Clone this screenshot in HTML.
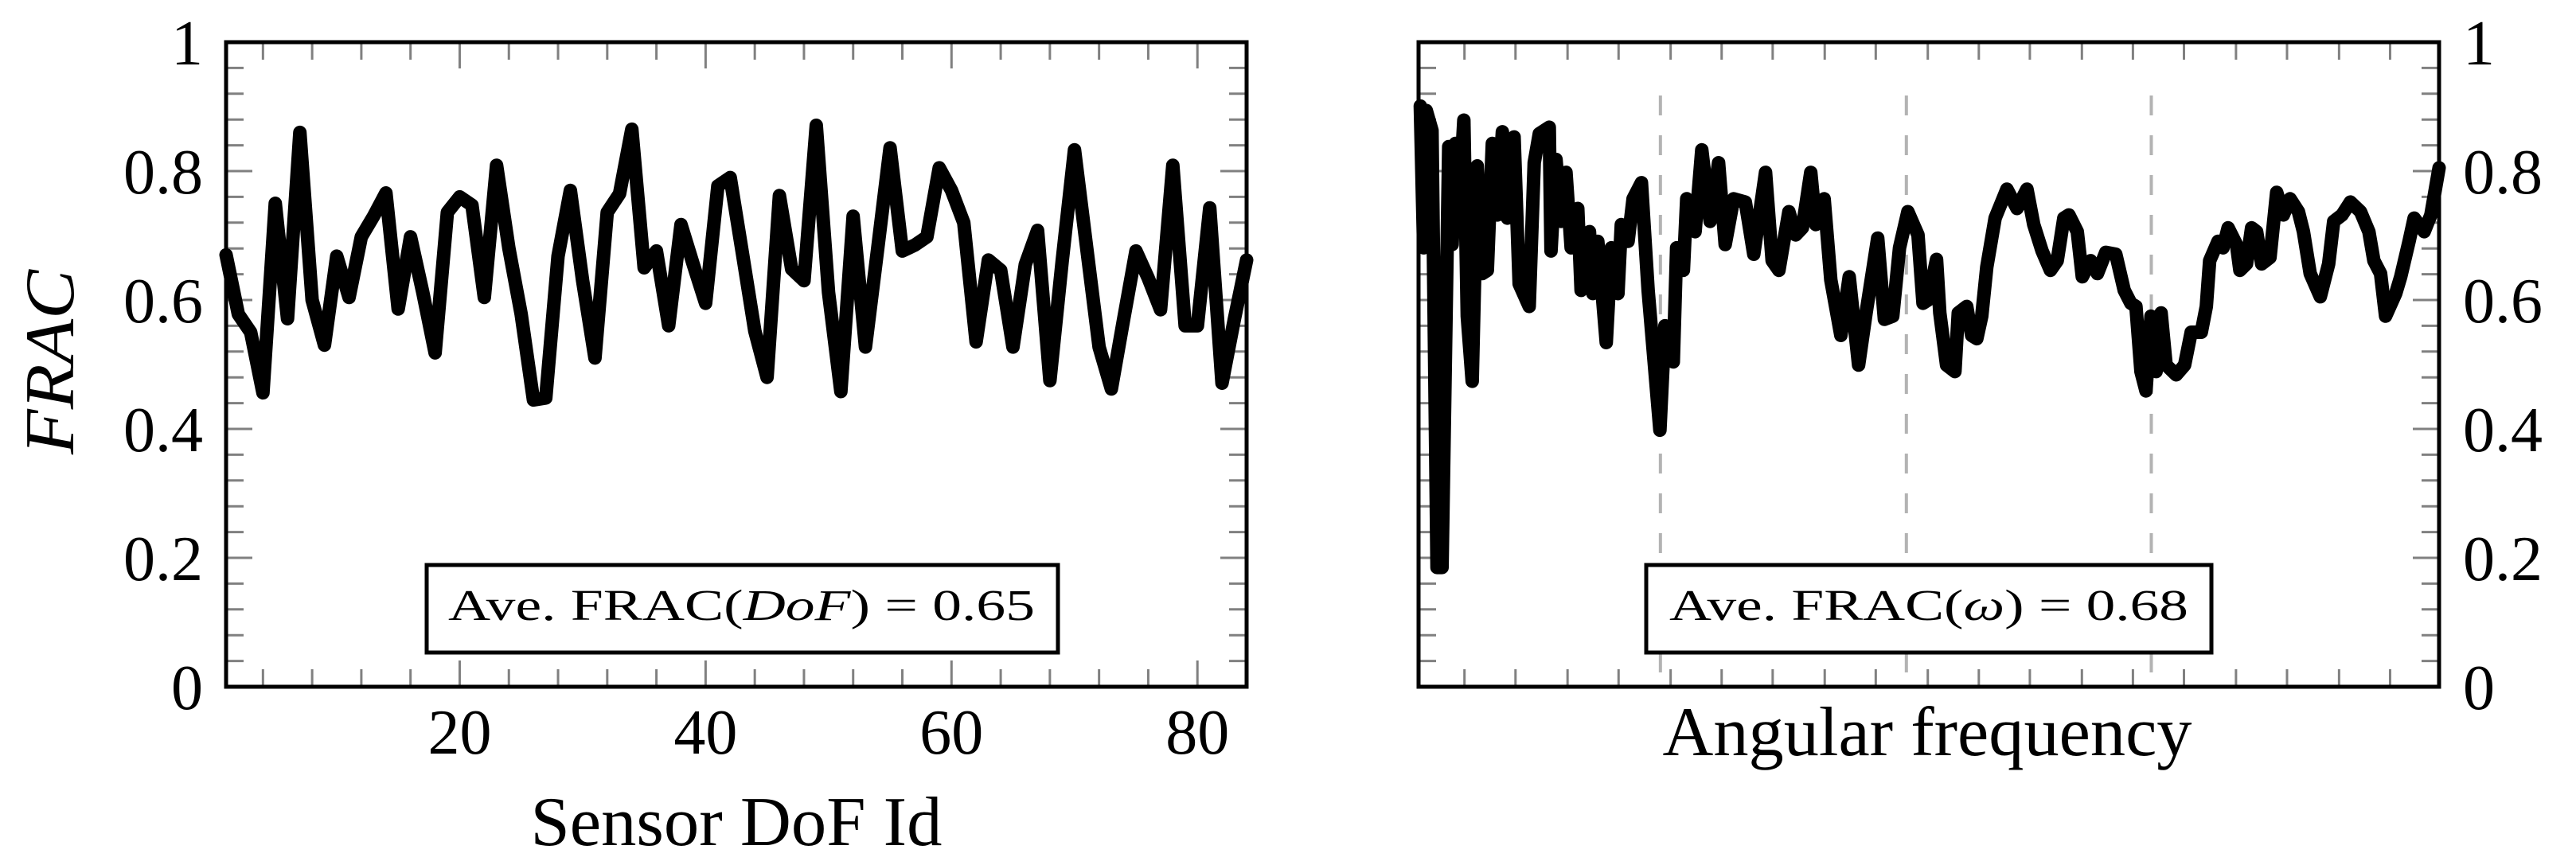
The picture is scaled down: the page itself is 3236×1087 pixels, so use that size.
<!DOCTYPE html>
<html><head><meta charset="utf-8">
<style>
html,body{margin:0;padding:0;background:#fff;}
svg{display:block;}
text{font-family:"Liberation Serif",serif;fill:#000;}
</style></head>
<body>
<svg id="chart" width="3236" height="1087" viewBox="0 0 3236 1087" xmlns="http://www.w3.org/2000/svg">
  <rect x="0" y="0" width="3236" height="1087" fill="#fff"/>
  <g id="left"></g>
  <g id="right"></g>
</svg>
<script>
// ---- Left chart data ----
const dofIds = [1,2,3,4,5,6,7,8,9,10,11,12,13,14,15,16,17,18,19,20,21,22,23,24,25,26,27,28,29,30,31,32,33,34,35,36,37,38,39,40,41,42,43,44,45,46,47,48,49,50,51,52,53,54,55,56,57,58,59,60,61,62,63,64,65,66,67,68,69,70,71,72,73,74,75,76,77,78,79,80,81,82,83,84];
const dofFrac = [0.67,0.578,0.55,0.456,0.75,0.571,0.86,0.60,0.53,0.668,0.604,0.698,0.73,0.766,0.586,0.698,0.612,0.518,0.736,0.76,0.747,0.604,0.809,0.68,0.578,0.445,0.448,0.668,0.77,0.63,0.51,0.736,0.765,0.865,0.65,0.676,0.56,0.717,0.655,0.595,0.777,0.79,0.672,0.552,0.48,0.762,0.648,0.63,0.871,0.612,0.458,0.73,0.527,0.68,0.836,0.676,0.685,0.698,0.805,0.77,0.72,0.535,0.662,0.646,0.527,0.655,0.708,0.475,0.66,0.833,0.68,0.527,0.462,0.57,0.676,0.634,0.585,0.809,0.56,0.56,0.743,0.471,0.57,0.662];
const leftXTicks = [20,40,60,80];
const yTicks = [0,0.2,0.4,0.6,0.8,1];
const yTickLabels = ["0","0.2","0.4","0.6","0.8","1"];

// ---- Right chart data ----
const freqIdx = [1.7,5.0,7.6,13.2,18.1,23.0,27.3,29.6,32.9,36.2,39.5,44.4,47.7,52.6,57.5,62.4,67.4,72.3,77.2,82.1,87.1,93.6,98.6,108.4,113.3,118.3,128.1,129.8,134.7,139.6,144.5,149.5,156.0,159.3,167.5,170.8,175.7,183.9,188.9,195.4,198.7,205.3,210.2,218.4,225.0,236.5,241.4,249.6,252.9,259.5,262.8,271.0,277.5,285.7,294.0,300.5,308.7,320.2,328.5,340.0,346.5,353.1,362.9,369.5,376.1,384.3,389.2,397.4,404.0,413.8,422.0,431.2,438.5,449.9,456.5,464.7,471.3,479.5,489.4,494.3,499.3,507.6,510.8,517.4,525.6,528.9,537.1,542.0,547.0,551.9,556.8,565.0,576.5,586.4,596.2,602.8,611.0,619.2,625.8,632.3,637.3,645.5,650.4,658.6,665.2,673.4,683.2,691.5,698.0,703.0,707.9,712.8,717.7,722.7,727.6,732.5,742.4,750.6,757.1,767.0,771.9,775.2,783.4,788.3,793.3,801.5,804.8,811.3,816.3,821.2,826.1,834.3,840.9,847.4,854.0,862.2,867.1,873.7,883.6,891.8,896.7,904.9,913.1,923.0,931.2,936.1,942.7,947.6,957.5,962.4,970.6,975.6,985.4,992.0,1000];
const freqFrac = [0.901,0.681,0.894,0.863,0.185,0.185,0.610,0.838,0.686,0.843,0.742,0.879,0.575,0.474,0.808,0.641,0.646,0.843,0.732,0.861,0.727,0.853,0.625,0.590,0.813,0.858,0.868,0.676,0.818,0.722,0.798,0.681,0.742,0.615,0.706,0.610,0.691,0.534,0.681,0.610,0.717,0.691,0.757,0.782,0.615,0.398,0.560,0.504,0.681,0.646,0.757,0.706,0.833,0.722,0.813,0.686,0.757,0.752,0.671,0.798,0.661,0.646,0.737,0.701,0.712,0.798,0.717,0.757,0.631,0.545,0.636,0.499,0.580,0.696,0.570,0.575,0.681,0.737,0.701,0.595,0.600,0.663,0.580,0.499,0.489,0.580,0.590,0.545,0.540,0.575,0.651,0.727,0.772,0.742,0.772,0.717,0.676,0.646,0.661,0.727,0.732,0.706,0.636,0.661,0.641,0.674,0.671,0.615,0.595,0.590,0.489,0.459,0.575,0.489,0.580,0.499,0.484,0.499,0.550,0.550,0.590,0.661,0.691,0.681,0.712,0.686,0.646,0.656,0.712,0.706,0.656,0.666,0.767,0.732,0.757,0.737,0.706,0.641,0.605,0.656,0.722,0.732,0.752,0.737,0.706,0.661,0.641,0.575,0.610,0.636,0.691,0.727,0.706,0.732,0.805];
const rightXTicks = [45,95,146,196,247,297,347,398,448,499,549,599,650,700,750,801,851,902,952];
const rightDashed = [237,478,718];

const NS = "http://www.w3.org/2000/svg";
function mk(parent, tag, attrs){
  const e = document.createElementNS(NS, tag);
  for (const k in attrs) e.setAttribute(k, attrs[k]);
  parent.appendChild(e);
  return e;
}

const Y0 = 863, Y1 = 53;
function yScale(v){ return Y0 - (Y0 - Y1) * v; }

function drawFrameTicks(g, x0, x1, xs, xTicksArr, majorX, minorXLen){
  for (let i = 1; i < 25; i++) {
    const v = i * 0.04;
    const y = yScale(v);
    const major = Math.abs(v*5 - Math.round(v*5)) < 1e-6;
    const len = major ? 33 : 22;
    const t1 = mk(g, 'line', {x1:x0, y1:y, x2:x0+len, y2:y, stroke:'#808080', 'stroke-width':3});
    
    
    const t2 = mk(g, 'line', {x1:x1-len, y1:y, x2:x1, y2:y, stroke:'#808080', 'stroke-width':3});
    
    
  }
  for (const t of xTicksArr) {
    const x = xs(t);
    const len = majorX(t) ? 33 : minorXLen;
    const a = mk(g, 'line', {x1:x, y1:Y0, x2:x, y2:Y0-len, stroke:'#808080', 'stroke-width':3});
    
    
    const b = mk(g, 'line', {x1:x, y1:Y1, x2:x, y2:Y1+len, stroke:'#808080', 'stroke-width':3});
    
    
  }
}

function drawFrame(g, x0, x1){
  const r = mk(g, 'rect', {x:x0, y:Y1, width:x1-x0, height:Y0-Y1, fill:'none', stroke:'#000', 'stroke-width':5});
  
  
}

function drawLine(g, xs, xv, yv, name){
  let d = '';
  for (let i = 0; i < xv.length; i++) d += (i ? 'L' : 'M') + xs(xv[i]).toFixed(1) + ',' + yScale(yv[i]).toFixed(1);
  const p = mk(g, 'path', {d:d, fill:'none', stroke:'#000', 'stroke-width':17, 'stroke-linejoin':'round', 'stroke-linecap':'round'});
  
  
}

function yLabels(g, x, anchor){
  yTicks.forEach((v, i) => {
    const t = mk(g, 'text', {x:x, y:yScale(v)+28, 'font-size':80, 'text-anchor':anchor});
    t.textContent = yTickLabels[i];
    
    
  });
}

// ---- Left panel ----
(function(){
  const g = document.getElementById('left');
  const LX0 = 284, LX1 = 1566, xmin = 1, xmax = 84;
  const xs = v => LX0 + (v - xmin) / (xmax - xmin) * (LX1 - LX0);
  const minor = [];
  for (let t = 4; t < xmax; t += 4) minor.push(t);
  drawFrameTicks(g, LX0, LX1, xs, minor, t => t % 20 === 0, 22);
  drawLine(g, xs, dofIds, dofFrac, 'dof-frac-line');
  const lb = mk(g, 'rect', {x:536, y:710, width:793, height:110, fill:'#fff', stroke:'#000', 'stroke-width':5});
  
  
  const lt = mk(g, 'text', {x:563, y:779, 'font-size':55, textLength:737, lengthAdjust:'spacingAndGlyphs'});
  lt.innerHTML = 'Ave. FRAC(<tspan font-style="italic">DoF</tspan>) = 0.65';
  
  
  drawFrame(g, LX0, LX1);
  leftXTicks.forEach(t => {
    const tx = mk(g, 'text', {x:xs(t), y:947, 'font-size':80, 'text-anchor':'middle'});
    tx.textContent = String(t);
    
    
  });
  yLabels(g, 255, 'end');
  const xl = mk(g, 'text', {x:925, y:1062, 'font-size':88, 'text-anchor':'middle', textLength:517, lengthAdjust:'spacingAndGlyphs'});
  xl.textContent = 'Sensor DoF Id';
  
  
  const yl = mk(g, 'text', {x:0, y:0, 'font-size':88, 'font-style':'italic', 'text-anchor':'middle', transform:'translate(92,455) rotate(-90)', textLength:232, lengthAdjust:'spacingAndGlyphs'});
  yl.textContent = 'FRAC';
  
  
})();

// ---- Right panel ----
(function(){
  const g = document.getElementById('right');
  const RX0 = 1782, RX1 = 3064, xmin = 0, xmax = 1000;
  const xs = v => RX0 + (v - xmin) / (xmax - xmin) * (RX1 - RX0);
  drawFrameTicks(g, RX0, RX1, xs, rightXTicks, t => false, 22);
  rightDashed.forEach(v => {
    const l = mk(g, 'line', {x1:xs(v), y1:120, x2:xs(v), y2:858, stroke:'#b3b3b3', 'stroke-width':4, 'stroke-dasharray':'25 25'});
    
    
  });
  drawLine(g, xs, freqIdx, freqFrac, 'frequency-frac-line');
  const lb = mk(g, 'rect', {x:2068, y:710, width:710, height:110, fill:'#fff', stroke:'#000', 'stroke-width':5});
  
  
  const lt = mk(g, 'text', {x:2097, y:779, 'font-size':55, textLength:652, lengthAdjust:'spacingAndGlyphs'});
  lt.innerHTML = 'Ave. FRAC(<tspan font-style="italic">ω</tspan>) = 0.68';
  
  
  drawFrame(g, RX0, RX1);
  yLabels(g, 3094, 'start');
  const xl = mk(g, 'text', {x:2421, y:949, 'font-size':88, 'text-anchor':'middle', textLength:665, lengthAdjust:'spacingAndGlyphs'});
  xl.textContent = 'Angular frequency';
  
  
})();
</script>
</body></html>
